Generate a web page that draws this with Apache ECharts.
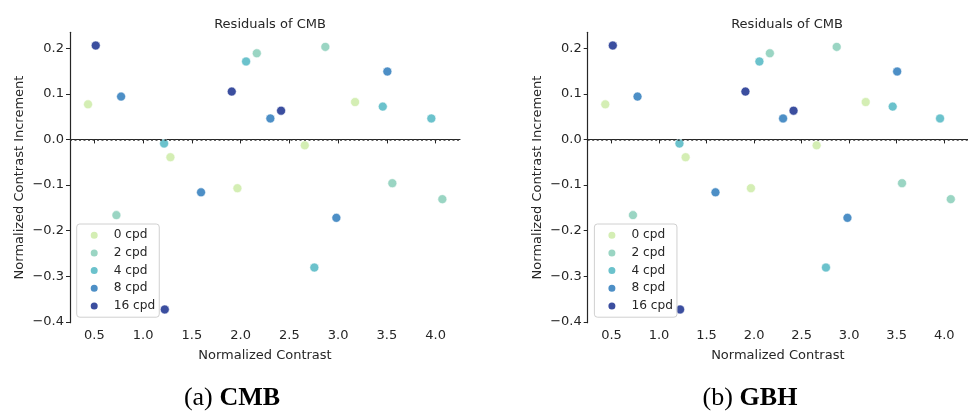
<!DOCTYPE html>
<html>
<head>
<meta charset="utf-8">
<script src="https://cdn.jsdelivr.net/npm/echarts@6/dist/echarts.min.js"></script>
<style>
html,body{margin:0;padding:0;background:#fff;}
#chart{width:968px;height:412px;}
</style>
</head>
<body>
<div id="chart"></div>
<script>
// ---- data ----
var categories = ['0 cpd', '2 cpd', '4 cpd', '8 cpd', '16 cpd'];
var x0 = [0.435, 1.28, 1.967, 2.658, 3.174];
var y0 = [0.077, -0.039, -0.107, -0.013, 0.082];
var x2 = [0.726, 2.166, 2.869, 3.556, 4.069];
var y2 = [-0.166, 0.189, 0.203, -0.096, -0.131];
var x4 = [1.215, 2.056, 2.756, 3.458, 3.956];
var y4 = [-0.009, 0.171, -0.281, 0.072, 0.046];
var x8 = [0.774, 1.594, 2.305, 2.982, 3.505];
var y8 = [0.094, -0.116, 0.046, -0.172, 0.149];
var x16 = [0.514, 1.222, 1.909, 2.415];
var y16 = [0.206, -0.373, 0.105, 0.063];
var xTicks = [0.5, 1.0, 1.5, 2.0, 2.5, 3.0, 3.5, 4.0];
var yTicks = [-0.4, -0.3, -0.2, -0.1, 0.0, 0.1, 0.2];
var panelTitles = ['Residuals of CMB', 'Residuals of CMB'];
var captionTags = ['(a)', '(b)'];
var captionNames = ['CMB', 'GBH'];
var xName = 'Normalized Contrast';
var yName = 'Normalized Contrast Increment';

var colors = ['#d4eeb4', '#9ad5c3', '#6bc2cc', '#4d8fc6', '#3b4e9f'];
var seriesX = [x0, x2, x4, x8, x16];
var seriesY = [y0, y2, y4, y8, y16];

function zip(a, b) { return a.map(function (v, i) { return [v, b[i]]; }); }
function fmt(v) { return v.toFixed(1).replace('-', '\u2212'); }

var FONT = 'DejaVu Sans';
var TXT = '#262626';
var FS = 13;
var panels = [{left: 70, center: 265, cap: 232}, {left: 587.7, center: 782, cap: 750}];

var grids = [], xAxes = [], yAxes = [], series = [], titles = [], legends = [], graphics = [];
panels.forEach(function (p, gi) {
  grids.push({left: p.left, top: 32.3, width: 390, height: 290.4, containLabel: false});
  xAxes.push({
    type: 'value', gridIndex: gi, min: 0.25, max: 4.25,
    name: xName, nameLocation: 'middle', nameGap: 26,
    nameTextStyle: {fontFamily: FONT, fontSize: FS, color: TXT},
    axisLine: {lineStyle: {color: TXT, width: 1.2}},
    axisTick: {show: true, length: 4, lineStyle: {color: TXT, width: 1}, customValues: xTicks},
    axisLabel: {fontFamily: FONT, fontSize: FS, color: TXT, margin: 6, customValues: xTicks, formatter: fmt},
    splitLine: {show: false}
  });
  yAxes.push({
    type: 'value', gridIndex: gi, min: -0.402, max: 0.235,
    name: yName, nameLocation: 'middle', nameGap: 44, nameRotate: 90,
    nameTextStyle: {fontFamily: FONT, fontSize: FS, color: TXT},
    axisLine: {show: true, lineStyle: {color: TXT, width: 1.2}},
    axisTick: {show: true, length: 4, lineStyle: {color: TXT, width: 1}, customValues: yTicks},
    axisLabel: {fontFamily: FONT, fontSize: FS, color: TXT, margin: 6, customValues: yTicks, formatter: fmt},
    splitLine: {show: false}
  });
  categories.forEach(function (c, ci) {
    var s = {
      name: c, type: 'scatter', xAxisIndex: gi, yAxisIndex: gi,
      data: zip(seriesX[ci], seriesY[ci]),
      symbol: 'circle', symbolSize: 9,
      itemStyle: {color: colors[ci], borderColor: '#ffffff', borderWidth: 0.6, opacity: 1},
      emphasis: {disabled: true}, z: 3
    };
    if (ci === 0) {
      s.markLine = {
        silent: true, symbol: 'none', animation: false,
        label: {show: false},
        lineStyle: {color: '#333333', type: [2, 2.5], width: 1.6},
        data: [{yAxis: 0}]
      };
    }
    series.push(s);
  });
  titles.push({
    text: panelTitles[gi], left: p.center, top: 13, textAlign: 'center',
    textStyle: {fontFamily: FONT, fontSize: FS, fontWeight: 'normal', color: TXT}
  });
  legends.push({
    data: categories.map(function (c) { return {name: c, icon: 'circle'}; }),
    orient: 'vertical', left: p.left + 6.7, top: 224,
    itemWidth: 9, itemHeight: 9, itemGap: 3.3,
    padding: [4, 4, 4, 12],
    backgroundColor: 'rgba(255,255,255,0.8)',
    borderColor: '#d0d0d0', borderWidth: 1, borderRadius: 3,
    selectedMode: false,
    textStyle: {fontFamily: FONT, fontSize: 12.2, color: TXT, padding: [0, 0, 0, 10], lineHeight: 14.4}
  });
  graphics.push({
    type: 'text', x: p.cap, y: 398,
    style: {
      text: '{a|' + captionTags[gi] + '}  {b|' + captionNames[gi] + '}',
      align: 'center', verticalAlign: 'middle',
      rich: {
        a: {fontFamily: 'Liberation Serif', fontSize: 26, fill: '#000'},
        b: {fontFamily: 'Liberation Serif', fontSize: 26, fontWeight: 'bold', fill: '#000'}
      }
    }
  });
});

var chart = echarts.init(document.getElementById('chart'), null, {renderer: 'canvas'});
chart.setOption({
  backgroundColor: '#ffffff',
  animation: false,
  title: titles,
  legend: legends,
  grid: grids,
  xAxis: xAxes,
  yAxis: yAxes,
  series: series,
  graphic: graphics
});
</script>
</body>
</html>
